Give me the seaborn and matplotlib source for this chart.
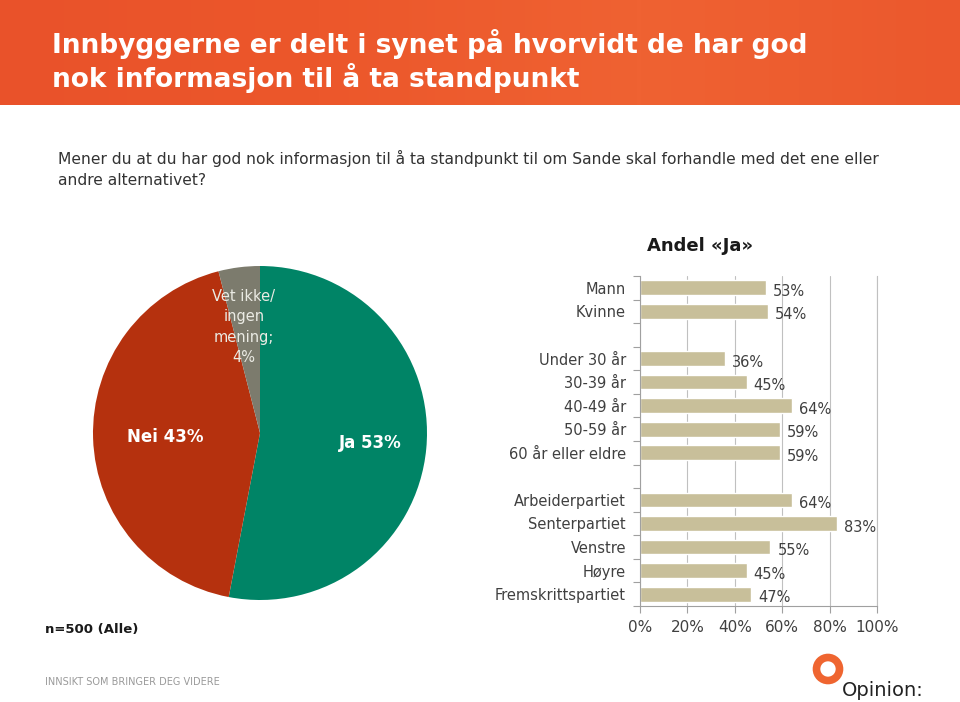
import matplotlib
matplotlib.use('Agg')
import matplotlib.pyplot as plt
import matplotlib.patches as mpatches
from matplotlib.colors import LinearSegmentedColormap
import numpy as np
import pandas as pd
import seaborn as sns

# Data
pie_labels = ['Ja', 'Nei', 'Vet ikke/\ningen\nmening;']
pie_values = [53, 43, 4]
pie_colors = ['#008466', '#b5310e', '#7c7b6d']

gender = ['Mann', 'Kvinne']
gender_vals = [53, 54]
ages = ['Under 30 år', '30-39 år', '40-49 år', '50-59 år', '60 år eller eldre']
age_vals = [36, 45, 64, 59, 59]
parties = ['Arbeiderpartiet', 'Senterpartiet', 'Venstre', 'Høyre', 'Fremskrittspartiet']
party_vals = [64, 83, 55, 45, 47]

title = 'Innbyggerne er delt i synet på hvorvidt de har god\nnok informasjon til å ta standpunkt'
question = 'Mener du at du har god nok informasjon til å ta standpunkt til om Sande skal forhandle med det ene eller\nandre alternativet?'

sns.set_theme(style='white')
plt.rcParams['font.family'] = ['DejaVu Sans']

fig = plt.figure(figsize=(9.6, 7.02), dpi=100)
fig.patch.set_facecolor('white')

# Header band
hdr = fig.add_axes([0, 1 - 105 / 702, 1, 105 / 702])
grad = np.linspace(0, 1, 256)[None, :]
cmap = LinearSegmentedColormap.from_list('hdr', ['#e9522a', '#ec572b', '#ef6232', '#eb582d'])
hdr.imshow(grad, aspect='auto', cmap=cmap, extent=[0, 1, 0, 1])
hdr.set_axis_off()
fig.text(52 / 960, 1 - 61 / 702, title, color='white', fontsize=19, fontweight='bold',
         va='center', ha='left', linespacing=1.2)

fig.text(58 / 960, 1 - 169 / 702, question, color='#333333', fontsize=11.2,
         va='center', ha='left', linespacing=1.45)

# Pie chart
pax = fig.add_axes([93 / 960, 1 - 600 / 702, 334 / 960, 334 / 702])
pax.pie(pie_values, colors=pie_colors, startangle=90, counterclock=False,
        wedgeprops=dict(linewidth=0))
pax.set_xlim(-1, 1)
pax.set_ylim(-1, 1)
pax.set_aspect('equal')
fig.text(165 / 960, 1 - 437 / 702, f'Nei {pie_values[1]}%', color='white', fontsize=12,
         fontweight='bold', ha='center', va='center')
fig.text(370 / 960, 1 - 443 / 702, f'Ja {pie_values[0]}%', color='white', fontsize=12,
         fontweight='bold', ha='center', va='center')
fig.text(244 / 960, 1 - 327 / 702, f'{pie_labels[2]}\n{pie_values[2]}%', color='#ebebe4',
         fontsize=10.5, ha='center', va='center', linespacing=1.45)

# Bar chart
cats = gender + ages + parties
vals = gender_vals + age_vals + party_vals
order = gender + ['gap1'] + ages + ['gap2'] + parties
df = pd.DataFrame({'group': cats, 'share': vals})

bax = fig.add_axes([640 / 960, 1 - 606 / 702, 237 / 960, 330 / 702])
sns.barplot(data=df, x='share', y='group', order=order, color='#c8bf9a',
            saturation=1, width=0.62, ax=bax)
bax.set_xlim(0, 100)
bax.set_ylim(len(order) - 0.5, -0.5)
bax.set_xlabel('')
bax.set_ylabel('')
bax.set_xticks(range(0, 101, 20))
bax.set_xticklabels([f'{t}%' for t in range(0, 101, 20)], color='#404040', fontsize=11)
bax.set_yticks(range(len(order)))
bax.set_yticklabels(['' if o.startswith('gap') else o for o in order],
                    color='#404040', fontsize=10.5)
bax.set_yticks(np.arange(-0.5, len(order), 1), minor=True)
bax.tick_params(axis='y', which='major', length=0, pad=10)
bax.tick_params(axis='y', which='minor', length=5, color='#a0a0a0', width=0.8, left=True)
bax.tick_params(axis='x', length=5, color='#a0a0a0', width=0.8, bottom=True, pad=5)
bax.grid(axis='x', color='#c0c0c0', linewidth=0.8)
bax.set_axisbelow(True)
bax.spines['top'].set_visible(False)
bax.spines['right'].set_color('#c0c0c0')
bax.spines['right'].set_linewidth(0.8)
for s in ['left', 'bottom']:
    bax.spines[s].set_color('#a0a0a0')
    bax.spines[s].set_linewidth(0.8)
for p, v in zip(bax.patches, vals):
    if np.isnan(p.get_width()):
        continue
    bax.text(p.get_width() + 3, p.get_y() + p.get_height() / 2 + 0.15, f'{v}%',
             color='#404040', fontsize=10.5, va='center', ha='left')

fig.text(700 / 960, 1 - 246 / 702, 'Andel «Ja»', color='#1a1a1a', fontsize=13,
         fontweight='bold', ha='center', va='center')

fig.text(45 / 960, 1 - 630 / 702, 'n=500 (Alle)', color='#1a1a1a', fontsize=9.5,
         fontweight='bold', ha='left', va='center')
fig.text(45 / 960, 1 - 682 / 702, 'INNSIKT SOM BRINGER DEG VIDERE', color='#9a9a9a',
         fontsize=7, ha='left', va='center')

# Logo
fig.patches.append(mpatches.Ellipse((828 / 960, 1 - 669 / 702), 23 / 960, 23 / 702,
                                    transform=fig.transFigure, facecolor='none',
                                    edgecolor='#ef6530', linewidth=5.5))
fig.text(842 / 960, 1 - 690 / 702, 'Opinion:', color='#222222', fontsize=14,
         ha='left', va='center')

fig.savefig('out.png', dpi=100)
